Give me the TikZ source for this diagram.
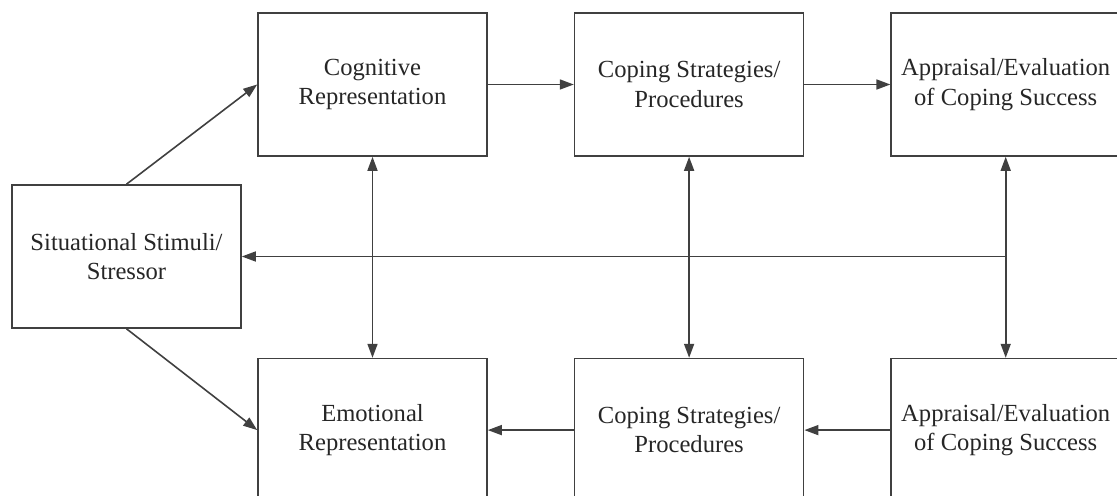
\documentclass[tikz,border=0pt]{standalone}
\usepackage{fontspec}
\setmainfont{Liberation Serif}
\usetikzlibrary{arrows.meta,positioning}
\tikzset{
    block/.style={rectangle,draw=black!75,line width=0.8pt,minimum width=114.5pt,minimum height=71.5pt,inner sep=0pt,align=center,text=black!85,font=\fontsize{12.3}{14.7}\selectfont},
    pre/.style={-{Triangle[length=7pt,width=5pt]},line width=0.8pt,draw=black!75},
    bi/.style={{Triangle[length=7pt,width=5pt]}-{Triangle[length=7pt,width=5pt]},line width=0.8pt,draw=black!75}
}

\begin{document}
\begin{tikzpicture}

                \useasboundingbox (0,0) rectangle (558.5pt,-248pt);

                \node[block] (cog)  at (186.25pt,-42.25pt)    {Cognitive\\Representation};
                \node[block] (cop1) [right=43pt of cog]       {Coping Strategies/\\Procedures};
                \node[block] (app1) [right=43pt of cop1]      {Appraisal/Evaluation\\of Coping Success};

                \node[block] (emo)  [below=100.5pt of cog]    {Emotional\\Representation};
                \node[block] (cop2) [below=100.5pt of cop1]   {Coping Strategies/\\Procedures};
                \node[block] (app2) [below=100.5pt of app1]   {Appraisal/Evaluation\\of Coping Success};

                \node[block] (stress) at (63.25pt,-128.25pt)  {Situational Stimuli/\\Stressor};

                \draw[pre] (stress.north) -- (cog.west);
                \draw[pre] (stress.south) -- (emo.west);

                \draw[pre] (cog)  -- (cop1);
                \draw[pre] (cop1) -- (app1);
                \draw[pre] (app2) -- (cop2);
                \draw[pre] (cop2) -- (emo);

                \draw[bi] (cog)  -- (emo);
                \draw[bi] (cop1) -- (cop2);
                \draw[bi] (app1) -- (app2);

                % feedback to the stressor
                \coordinate (split) at (app1.south |- stress.east);
                \draw[pre] (split) -- (stress.east);

            \end{tikzpicture}
\end{document}
